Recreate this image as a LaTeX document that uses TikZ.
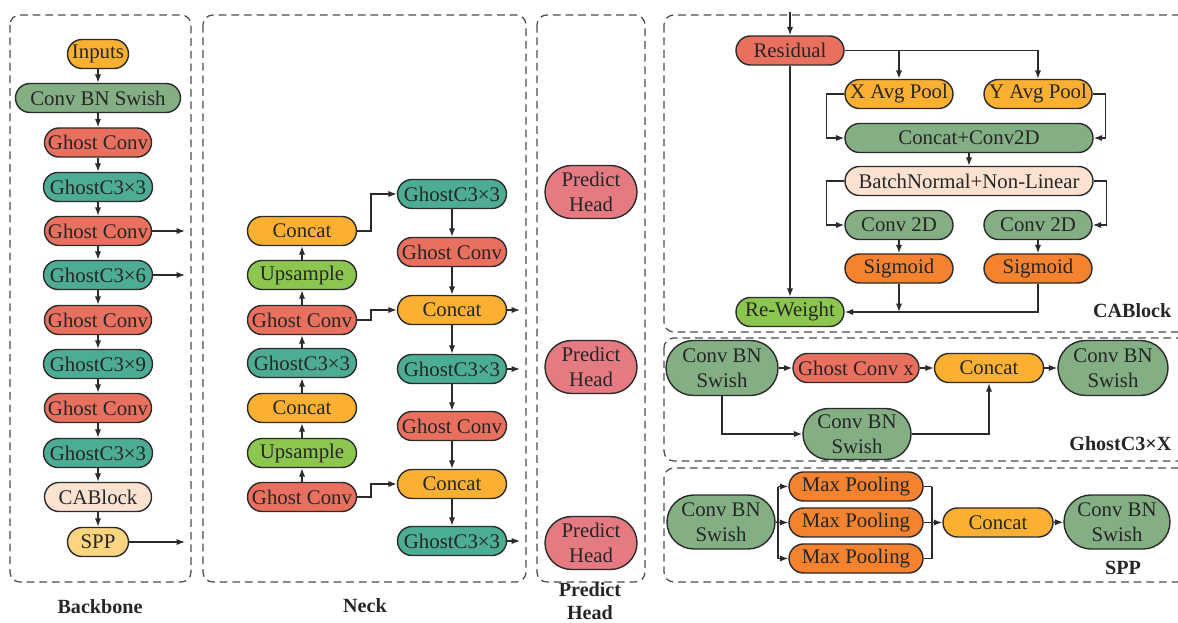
\documentclass[tikz,border=0pt]{standalone}
\usepackage{fontspec}
\setmainfont{Liberation Serif}
\usetikzlibrary{arrows.meta}
\definecolor{ink}{HTML}{262626}
\definecolor{edge}{HTML}{2B2B2B}
\definecolor{dashc}{HTML}{4D4D4D}
\definecolor{ghost}{HTML}{E9705E}
\definecolor{gcthree}{HTML}{4DAD94}
\definecolor{cbs}{HTML}{84AE84}
\definecolor{amber}{HTML}{FBB032}
\definecolor{peach}{HTML}{FDE2D2}
\definecolor{sand}{HTML}{FDD581}
\definecolor{lime}{HTML}{8DC64F}
\definecolor{rose}{HTML}{E57A82}
\definecolor{tang}{HTML}{F4822F}

\begin{document}
\begin{tikzpicture}[x=0.025cm,y=-0.025cm,
          every node/.style={font=\fontsize{14.8}{17.5}\selectfont,text=ink},
          blk/.style={rectangle,draw=edge,line width=1pt,inner sep=1pt,align=center,
              minimum height=0.725cm,rounded corners=0.3625cm},
          wd/.style={minimum width=#1*0.025cm},
          ht/.style={minimum height=#1*0.025cm,rounded corners=#1*0.0125cm},
          panel/.style={draw=dashc,line width=0.9pt,dash pattern=on 5.5pt off 3.5pt,rounded corners=7pt},
          arr/.style={-{Latex[length=6pt,width=4.5pt]},line width=1pt,edge},
          ln/.style={line width=1pt,edge},
          title/.style={font=\fontsize{14.3}{16}\selectfont\bfseries,align=center,inner sep=1pt}]
        \useasboundingbox (0,0) rectangle (1178,623);

        % panels
        \draw[panel] (10,15) rectangle (191,582);
        \draw[panel] (203,15) rectangle (526,582);
        \draw[panel] (537,15) rectangle (645,582);
        \draw[panel] (664,15) rectangle (1192,332);
        \draw[panel] (664,338) rectangle (1192,461);
        \draw[panel] (664,468) rectangle (1192,582);
        \node[title] (tbb) at (100,607) {Backbone};
        \node[title] (tnk) at (365,606) {Neck};
        \node[title] (tph) at (590,601) {Predict\\Head};
        \node[title,anchor=east] (tca) at (1173,311) {CABlock};
        \node[title,anchor=east] (tgc) at (1173,444) {GhostC3×X};
        \node[title] (tsp) at (1123,568) {SPP};

        % backbone
        \node[blk,wd=61,fill=amber] (bb1) at (98,54) {Inputs};
        \node[blk,wd=165,fill=cbs] (bb2) at (98,98) {Conv BN Swish};
        \node[blk,wd=107,fill=ghost] (bb3) at (98,142.5) {Ghost Conv};
        \node[blk,wd=109,fill=gcthree] (bb4) at (98,187) {GhostC3×3};
        \node[blk,wd=107,fill=ghost] (bb5) at (98,231) {Ghost Conv};
        \node[blk,wd=109,fill=gcthree] (bb6) at (98,275) {GhostC3×6};
        \node[blk,wd=107,fill=ghost] (bb7) at (98,320) {Ghost Conv};
        \node[blk,wd=109,fill=gcthree] (bb8) at (98,364) {GhostC3×9};
        \node[blk,wd=107,fill=ghost] (bb9) at (98,408) {Ghost Conv};
        \node[blk,wd=109,fill=gcthree] (bb10) at (98,453) {GhostC3×3};
        \node[blk,wd=107,fill=peach] (bb11) at (98,497) {CABlock};
        \node[blk,wd=61,fill=sand] (bb12) at (98,542) {SPP};
        \foreach \a/\b in {1/2,2/3,3/4,4/5,5/6,6/7,7/8,8/9,9/10,10/11,11/12}
          \draw[arr] (bb\a) -- (bb\b);
        \coordinate (bo1) at (185,231);
        \coordinate (bo2) at (185,275);
        \coordinate (bo3) at (185,542);
        \draw[arr] (bb5.east) -- (bo1);
        \draw[arr] (bb6.east) -- (bo2);
        \draw[arr] (bb12.east) -- (bo3);

        % neck, left column
        \node[blk,wd=109,fill=amber] (nl1) at (302,231) {Concat};
        \node[blk,wd=109,fill=lime] (nl2) at (302,275) {Upsample};
        \node[blk,wd=109,fill=ghost] (nl3) at (302,320) {Ghost Conv};
        \node[blk,wd=109,fill=gcthree] (nl4) at (302,363) {GhostC3×3};
        \node[blk,wd=109,fill=amber] (nl5) at (302,408) {Concat};
        \node[blk,wd=109,fill=lime] (nl6) at (302,453) {Upsample};
        \node[blk,wd=109,fill=ghost] (nl7) at (302,497) {Ghost Conv};
        \foreach \a/\b in {7/6,6/5,5/4,4/3,3/2,2/1}
          \draw[arr] (nl\a) -- (nl\b);

        % neck, right column
        \node[blk,wd=109,fill=gcthree] (nr1) at (452,194) {GhostC3×3};
        \node[blk,wd=109,fill=ghost] (nr2) at (452,252) {Ghost Conv};
        \node[blk,wd=109,fill=amber] (nr3) at (452,310) {Concat};
        \node[blk,wd=109,fill=gcthree] (nr4) at (452,369) {GhostC3×3};
        \node[blk,wd=109,fill=ghost] (nr5) at (452,426) {Ghost Conv};
        \node[blk,wd=109,fill=amber] (nr6) at (452,484) {Concat};
        \node[blk,wd=109,fill=gcthree] (nr7) at (452,541) {GhostC3×3};
        \foreach \a/\b in {1/2,2/3,3/4,4/5,5/6,6/7}
          \draw[arr] (nr\a) -- (nr\b);
        \draw[arr] (nl1.east) -- (371,231) |- (nr1.west);
        \draw[arr] (nl3.east) -- (371,320) |- (nr3.west);
        \draw[arr] (nl7.east) -- (371,497) |- (nr6.west);
        \coordinate (no1) at (520,310);
        \coordinate (no2) at (520,369);
        \coordinate (no3) at (520,541);
        \draw[arr] (nr3.east) -- (no1);
        \draw[arr] (nr4.east) -- (no2);
        \draw[arr] (nr7.east) -- (no3);

        % predict heads
        \node[blk,wd=92,ht=53,fill=rose] (ph1) at (591,192) {Predict\\Head};
        \node[blk,wd=92,ht=53,fill=rose] (ph2) at (591,367) {Predict\\Head};
        \node[blk,wd=92,ht=53,fill=rose] (ph3) at (591,543) {Predict\\Head};

        % CABlock
        \coordinate (cain) at (790,12);
        \node[blk,wd=108,fill=ghost] (res) at (790,50.5) {Residual};
        \node[blk,wd=108,fill=amber] (xpool) at (899,94) {X Avg Pool};
        \node[blk,wd=108,fill=amber] (ypool) at (1038,94) {Y Avg Pool};
        \node[blk,wd=248,fill=cbs] (cc) at (969,138) {Concat+Conv2D};
        \node[blk,wd=248,fill=peach] (bn) at (969,181) {BatchNormal+Non-Linear};
        \node[blk,wd=108,fill=cbs] (convl) at (899,225) {Conv 2D};
        \node[blk,wd=108,fill=cbs] (convr) at (1038,225) {Conv 2D};
        \node[blk,wd=108,fill=tang] (sigl) at (899,268.5) {Sigmoid};
        \node[blk,wd=108,fill=tang] (sigr) at (1038,268.5) {Sigmoid};
        \node[blk,wd=108,fill=lime] (rw) at (790,312) {Re-Weight};
        \draw[arr] (cain) -- (res);
        \draw[arr] (res) -- (rw);
        \draw[arr] (res.east) -| (ypool.north);
        \draw[arr] (xpool.north |- res.east) -- (xpool.north);
        \draw[arr] (xpool.west) -- ++(-18,0) |- (cc.west);
        \draw[arr] (ypool.east) -- ++(13,0) |- (cc.east);
        \draw[arr] (cc) -- (bn);
        \draw[arr] (bn.west) -- ++(-18,0) |- (convl.west);
        \draw[arr] (bn.east) -- ++(13,0) |- (convr.east);
        \draw[arr] (convl) -- (sigl);
        \draw[arr] (convr) -- (sigr);
        \draw[arr] (sigl.south) -- (sigl.south |- rw.east);
        \draw[arr] (sigr.south) |- (rw.east);

        % GhostC3xX
        \node[blk,wd=112,ht=55,fill=cbs] (gcl) at (722,368) {Conv BN\\Swish};
        \node[blk,wd=126,fill=ghost] (gcx) at (856,368) {Ghost Conv x};
        \node[blk,wd=109,fill=amber] (gccat) at (989,368) {Concat};
        \node[blk,wd=110,ht=55,fill=cbs] (gcr) at (1113,368) {Conv BN\\Swish};
        \node[blk,wd=108,ht=51,fill=cbs] (gcb) at (857,434) {Conv BN\\Swish};
        \draw[arr] (gcl) -- (gcx);
        \draw[arr] (gcx) -- (gccat);
        \draw[arr] (gccat) -- (gcr);
        \draw[arr] (gcl.south) |- (gcb.west);
        \draw[arr] (gcb.east) -| (gccat.south);

        % SPP
        \node[blk,wd=108,ht=54,fill=cbs] (spl) at (721,522) {Conv BN\\Swish};
        \node[blk,wd=134,fill=tang] (mp1) at (856,486.5) {Max Pooling};
        \node[blk,wd=134,fill=tang] (mp2) at (856,522.5) {Max Pooling};
        \node[blk,wd=134,fill=tang] (mp3) at (856,558.5) {Max Pooling};
        \node[blk,wd=110,fill=amber] (spcat) at (998,522.5) {Concat};
        \node[blk,wd=106,ht=54,fill=cbs] (spr) at (1117,522) {Conv BN\\Swish};
        \coordinate (split) at (778,522.5);
        \coordinate (merge) at (932,522.5);
        \draw[ln] (spl.east) -- (split);
        \draw[ln] (split |- mp1.west) -- (split |- mp3.west);
        \foreach \m in {mp1,mp2,mp3}{
          \draw[arr] (split |- \m.west) -- (\m.west);
          \draw[ln] (\m.east) -- (merge |- \m.east);
        }
        \draw[ln] (merge |- mp1.east) -- (merge |- mp3.east);
        \draw[arr] (merge) -- (spcat.west);
        \draw[arr] (spcat) -- (spr);
      \end{tikzpicture}
\end{document}
